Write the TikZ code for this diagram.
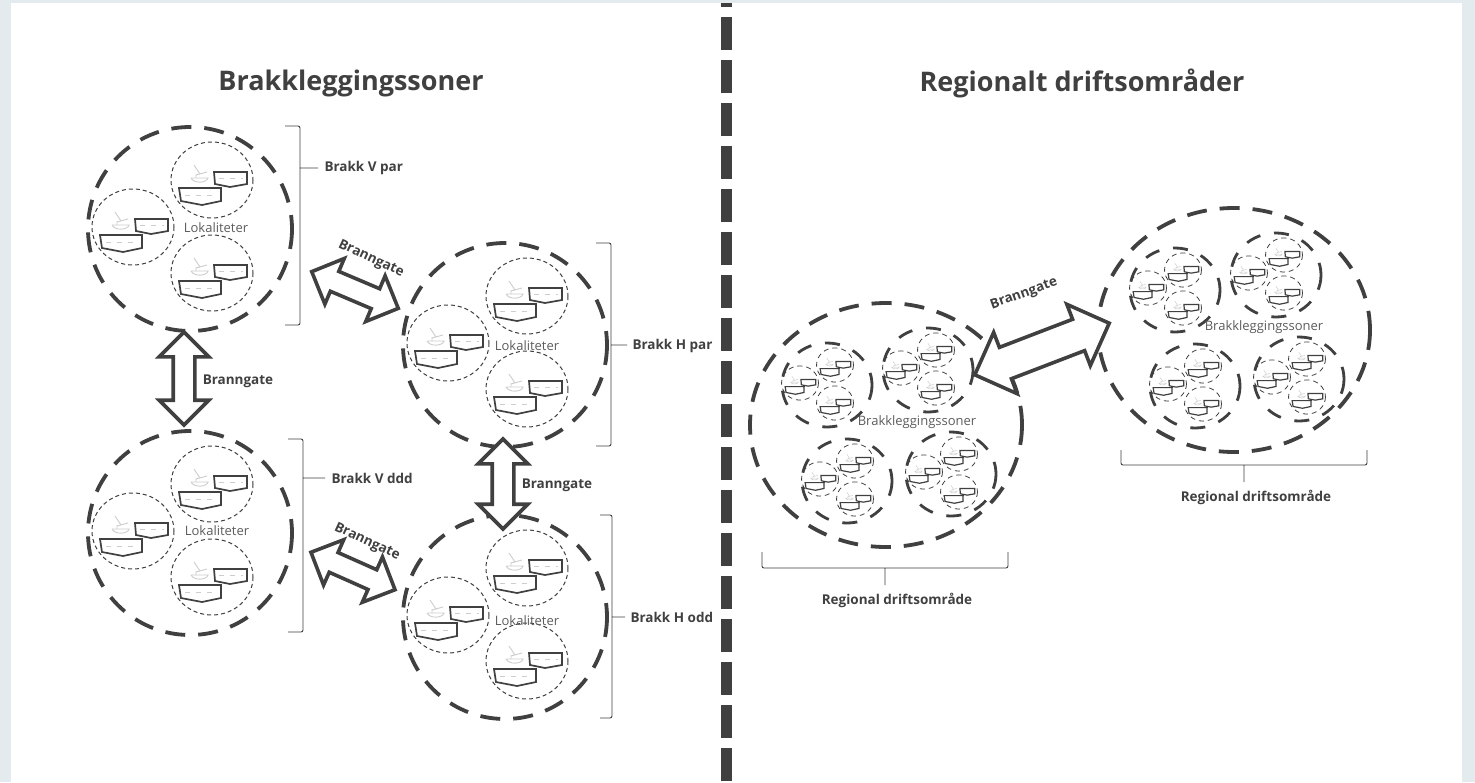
\documentclass[tikz,border=0pt]{standalone}
\usepackage{fontspec}
\setmainfont{Open Sans}
\definecolor{panelblue}{RGB}{227, 235, 239}
\definecolor{inkgrey}{RGB}{64, 64, 64}
\definecolor{boatgrey}{RGB}{205, 205, 205}
\usetikzlibrary{shapes.arrows, shapes.geometric}
\tikzset{
  bigring/.style={inkgrey, line width=3.8pt, dash pattern=on 20pt off 13pt},
  midring/.style={inkgrey, line width=2.8pt, dash pattern=on 15pt off 14pt},
  sitering/.style={inkgrey, line width=1pt, dash pattern=on 4pt off 3pt},
  cagewall/.style={inkgrey, line width=1.7pt},
  cagetop/.style={inkgrey, line width=2.8pt},
  cagewave/.style={boatgrey, line width=.7pt, dash pattern=on 5pt off 6pt},
  boatline/.style={boatgrey, line width=.9pt},
  firelane/.style={double arrow, draw=inkgrey, fill=white, line width=3.6pt,
    double arrow head extend=14pt, inner xsep=0pt, inner ysep=9pt, minimum width=46pt},
  sidebrace/.style={inkgrey, line width=.9pt, rounded corners=2pt},
  lbl/.style={inkgrey, font=\fontsize{13.5}{16}\selectfont\bfseries},
  sitelbl/.style={inkgrey!85, font=\fontsize{13}{15}\selectfont},
  tiny/.style={scale=.45, sitering/.append style={line width=.8pt, dash pattern=on 5pt off 4pt},
    cagewall/.append style={line width=1.2pt}, cagetop/.append style={line width=1.6pt},
    cagewave/.append style={draw=none}, boatline/.append style={line width=.5pt}},
  pics/site/.style={code={
    \draw[sitering] (0,0) ellipse (41 and 38);
    % boat
    \draw[boatline] (-21,-2) -- (-4,-2) .. controls (-5,3) and (-18,4) .. (-21,-2);
    \draw[boatline] (-18,-15) -- (-12,-6) (-16,-5) -- (-5,-8) (-16,-2) -- (-16,-6);
    % cages
    \draw[cagewall] (2,-8) -- (35,-8) -- (35,4) -- (18,7) -- (3,4) -- cycle;
    \draw[cagetop] (2,-8) -- (35,-8);
    \draw[cagewave] (7,-2) -- (31,-2);
    \fill[white] (-33,8) rectangle (9,22);
    \draw[cagewall] (-33,8) -- (9,8) -- (9,21) -- (-10,25) -- (-31,21) -- cycle;
    \draw[cagetop] (-34,8) -- (10,8);
    \draw[cagewave] (-27,15) -- (4,15);
  }},
  pics/zone/.style={code={
    \pic at (22,-49) {site};
    \pic at (-57,-2) {site};
    \pic at (22,44) {site};
  }},
  pics/block/.style={code={
    \draw[midring] (0,0) ellipse (45 and 42);
    \pic[tiny] at (8,-20) {site};
    \pic[tiny] at (-27,-2) {site};
    \pic[tiny] at (8,18) {site};
  }},
}

\begin{document}
\begin{tikzpicture}[x=1pt, y=-1pt]
  \useasboundingbox (0,0) rectangle (1475,782);
  \fill[panelblue] (0,0) rectangle (1475,782);
  \fill[white] (11,3) rectangle (1462,782);

  % Divider
  \draw[inkgrey, line width=11pt, dash pattern=on 33pt off 10pt, dash phase=29pt] (726.5,3) -- (726.5,782);

  % Titles
  \node[inkgrey, font=\fontsize{27}{32}\selectfont\bfseries] (titleleft) at (351,83) {Brakkleggingssoner};
  \node[inkgrey, font=\fontsize{27}{32}\selectfont\bfseries] (titleright) at (1082,83) {Regionalt driftsområder};

  % Brakk zones
  \foreach \name/\x/\y/\lx/\ly in {zonea/190/229/216/228, zoneb/190/533/217/531, zonec/505/345/527/346, zoned/505/617/527/621} {
    \node[circle, minimum size=204pt, inner sep=0pt] (\name) at (\x,\y) {};
    \draw[bigring] (\x,\y) circle (102);
    \pic at (\x,\y) {zone};
    \node[sitelbl] at (\lx,\ly) {Lokaliteter};
  }

  % Side braces
  \draw[sidebrace] (285,126) -- (300,126) -- (300,325) -- (285,325) (300,168) -- (318,168);
  \draw[sidebrace] (288,439) -- (303,439) -- (303,632) -- (288,632) (303,478) -- (325,478);
  \draw[sidebrace] (596,243) -- (611,243) -- (611,446) -- (596,446) (611,345) -- (627,345);
  \draw[sidebrace] (600,515) -- (612,515) -- (612,718) -- (600,718) (612,617) -- (625,617);
  \node[lbl, anchor=west] (bva) at (321,168) {Brakk V par};
  \node[lbl, anchor=west] (bvb) at (328,478) {Brakk V ddd};
  \node[lbl, anchor=west] (bha) at (629,346) {Brakk H par};
  \node[lbl, anchor=west] (bhb) at (627,617) {Brakk H odd};

  % Fire lanes, left
  \node[firelane, minimum height=93pt, rotate=90] (lanev) at (184,378.5) {};
  \node[firelane, minimum height=90pt, rotate=90] (laneh) at (503,484) {};
  \node[firelane, minimum height=94pt, rotate=-23] (lanea) at (355,290) {};
  \node[firelane, minimum height=92pt, rotate=-24] (laneb) at (353,571) {};
  \node[lbl] at (238,381) {Branngate};
  \node[lbl] at (557,485) {Branngate};
  \node[lbl, rotate=-25] at (371,259) {Branngate};
  \node[lbl, rotate=-25] at (367,542) {Branngate};

  % Regional areas
  \foreach \name/\x/\y in {regiona/886/425, regionb/1234/330} {
    \node[ellipse, minimum width=272pt, minimum height=244pt, inner sep=0pt] (\name) at (\x,\y) {};
    \draw[bigring] (\x,\y) ellipse (136 and 122);
  }
  \foreach \x/\y in {827/385, 928/370, 847/481, 951/474, 1175/290, 1276/275, 1195/386, 1299/379} {
    \pic at (\x,\y) {block};
  }
  \node[sitelbl] at (917,422) {Brakkleggingssoner};
  \node[sitelbl] at (1264,327) {Brakkleggingssoner};

  % Fire lane, right
  \node[firelane, minimum height=144pt, minimum width=64pt, inner ysep=15pt, double arrow head extend=16pt, rotate=21] (lanec) at (1042,349) {};
  \node[lbl, rotate=20] at (1024,294) {Branngate};

  % Bottom braces
  \draw[sidebrace] (762,552) -- (762,568) -- (1008,568) -- (1008,552) (885,568) -- (885,585);
  \draw[sidebrace] (1121,450) -- (1121,465) -- (1367,465) -- (1367,450) (1244,465) -- (1244,482);
  \node[lbl] (rega) at (897,600) {Regional driftsområde};
  \node[lbl] (regb) at (1256,497) {Regional driftsområde};
\end{tikzpicture}
\end{document}
